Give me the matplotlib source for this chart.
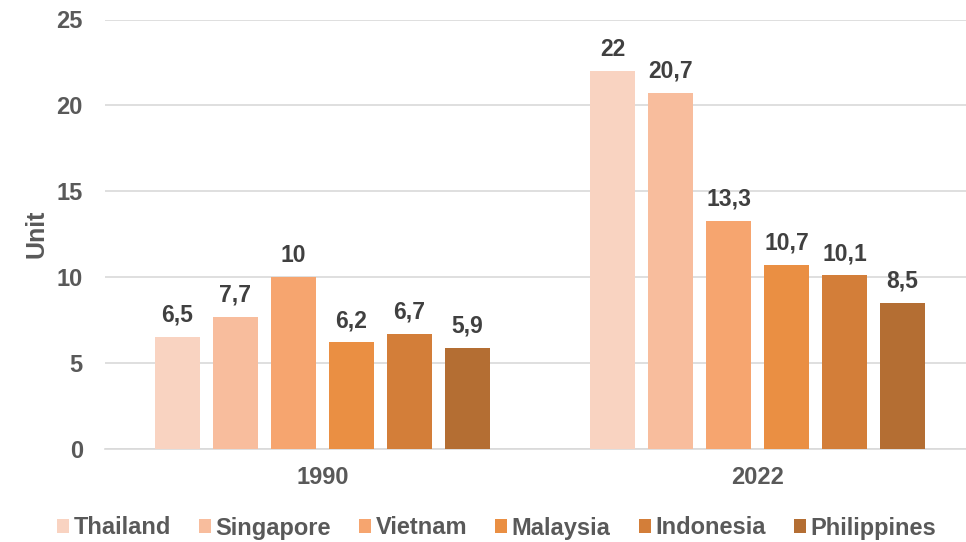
import matplotlib
matplotlib.use("Agg")
import matplotlib.pyplot as plt
import numpy as np

years = ["1990", "2022"]
countries = ["Thailand", "Singapore", "Vietnam", "Malaysia", "Indonesia", "Philippines"]
values = {
    "Thailand": [6.5, 22],
    "Singapore": [7.7, 20.7],
    "Vietnam": [10, 13.3],
    "Malaysia": [6.2, 10.7],
    "Indonesia": [6.7, 10.1],
    "Philippines": [5.9, 8.5],
}
colors = ["#F9D3C1", "#F8BD9D", "#F6A56F", "#EA8F43", "#D37E39", "#B46E33"]
yticks = [0, 5, 10, 15, 20, 25]

plt.rcParams['font.family'] = ['Liberation Sans', 'DejaVu Sans']
fig = plt.figure(figsize=(9.66, 5.42), dpi=100)
W, H = 966, 542
ax = fig.add_axes([105 / W, (H - 449) / H, 870 / W, (449 - 19.5) / H])

x = np.arange(len(years))
step = 58 / 435
width = 45 / 435
n = len(countries)
for i, c in enumerate(countries):
    pos = x + (i - (n - 1) / 2) * step
    bars = ax.bar(pos, values[c], width=width, color=colors[i], label=c, zorder=3)
    for b, v in zip(bars, values[c]):
        lab = f"{v:g}".replace(".", ",")
        ax.annotate(lab, (b.get_x() + b.get_width() / 2, v), xytext=(0, 7.5),
                    textcoords="offset points", ha="center", va="bottom",
                    fontsize=16.5, fontweight="bold", color="#404040")

ax.set_xlim(-0.5, 1.5)
ax.set_ylim(0, 25)
ax.set_yticks(yticks)
ax.set_xticks(x)
ax.set_xticklabels(years)
ax.yaxis.grid(True, color="#D9D9D9", linewidth=1.2, zorder=0)
for s in ["top", "right", "left"]:
    ax.spines[s].set_visible(False)
ax.spines["bottom"].set_color("#D9D9D9")
ax.spines["bottom"].set_linewidth(1.2)
ax.tick_params(axis="both", length=0, labelsize=17, labelcolor="#595959")
ax.tick_params(axis="y", pad=16)
ax.tick_params(axis="x", pad=12)
for t in ax.get_xticklabels() + ax.get_yticklabels():
    t.set_fontweight("bold")
ax.set_ylabel("Unit", fontsize=18, fontweight="bold", color="#595959")
ax.yaxis.set_label_coords(-0.0655, 0.5)

fig.legend(loc="center", bbox_to_anchor=(0.514, (H - 528) / H), ncol=6, frameon=False,
           handlelength=0.5, handleheight=0.5, handletextpad=0.2,
           columnspacing=1.19, prop={"weight": "bold", "size": 17})
for t in fig.legends[0].get_texts():
    t.set_color("#595959")

fig.savefig("out.png", dpi=100)
